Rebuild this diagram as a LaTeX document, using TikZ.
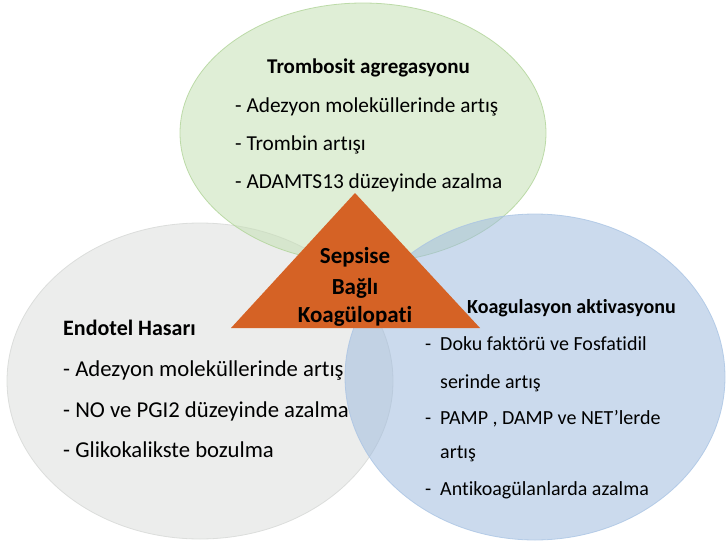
\documentclass[tikz,border=0pt]{standalone}
\usepackage{fontspec}
\setmainfont{Carlito}[Ligatures=NoCommon]
\usepackage{tikz}
\usetikzlibrary{shapes.geometric}

\definecolor{greenset}{RGB}{197,224,180}
\definecolor{greenline}{RGB}{176,212,152}
\definecolor{greyset}{RGB}{220,222,220}
\definecolor{greyline}{RGB}{214,216,214}
\definecolor{blueset}{RGB}{160,188,222}
\definecolor{blueline}{RGB}{170,196,228}
\definecolor{sepsisorange}{RGB}{213,98,37}

\begin{document}
\begin{tikzpicture}[x=1pt, y=-1pt,
  set/.style={ellipse, inner sep=0pt, fill opacity=0.55, draw opacity=0.8, line width=0.8pt},
  head/.style={anchor=base west, inner sep=0pt, font=\fontsize{22}{26}\selectfont\bfseries},
  item/.style={anchor=base west, inner sep=0pt, font=\fontsize{22.7}{26}\selectfont},
  bluetext/.style={anchor=base west, inner sep=0pt, font=\fontsize{20}{24}\selectfont},
  core/.style={anchor=base, inner sep=0pt, font=\fontsize{23}{27}\selectfont\bfseries}
]
\useasboundingbox (0,0) rectangle (726,541);

% Endotel Background
\node[set, fill=greyset, draw=greyline, minimum width=386pt, minimum height=316pt] (endotel) at (200,381) {};

% Trombosit Background
\node[set, fill=greenset, draw=greenline, minimum width=366pt, minimum height=260pt] (trombosit) at (363,133) {};

% Koagulasyon Background
\node[set, fill=blueset, draw=blueline, minimum width=380pt, minimum height=326pt] (koagulasyon) at (535,377) {};

% Trombosit text
\node[head, font=\fontsize{21}{25}\selectfont\bfseries] (tromhead) at (267,73) {Trombosit agregasyonu};
\node[item, font=\fontsize{21.3}{25}\selectfont] (trom1) at (235,112) {- Adezyon moleküllerinde artış};
\node[item, font=\fontsize{21.3}{25}\selectfont] (trom2) at (235,150) {- Trombin artışı};
\node[item, font=\fontsize{21.3}{25}\selectfont] (trom3) at (235,188) {- ADAMTS13 düzeyinde azalma};

% Endotel text
\node[head] (endhead) at (63,335) {Endotel Hasarı};
\node[item] (end1) at (63,376) {- Adezyon moleküllerinde artış};
\node[item] (end2) at (63,417) {- NO ve PGI2 düzeyinde azalma};
\node[item] (end3) at (63,457) {- Glikokalikste bozulma};

% Koagulasyon text
\node[head, font=\fontsize{20}{24}\selectfont\bfseries] (koahead) at (467,313) {Koagulasyon aktivasyonu};
\node[bluetext] (koadash1) at (425,350) {-};
\node[bluetext] (koa1) at (440,350) {Doku faktörü ve Fosfatidil};
\node[bluetext] (koa1b) at (440,388) {serinde artış};
\node[bluetext] (koadash2) at (425,424) {-};
\node[bluetext] (koa2) at (440,424) {PAMP , DAMP ve NET’lerde};
\node[bluetext] (koa2b) at (440,458) {artış};
\node[bluetext] (koadash3) at (425,495) {-};
\node[bluetext] (koa3) at (440,495) {Antikoagülanlarda azalma};

% Central triangle
\coordinate (apex) at (355,193);
\coordinate (baseL) at (231,328);
\coordinate (baseR) at (480,328);
\fill[sepsisorange] (apex) -- (baseR) -- (baseL) -- cycle;
\node[core] (sepsis1) at (355,263) {Sepsise};
\node[core] (sepsis2) at (355,294) {Bağlı};
\node[core] (sepsis3) at (355,322) {Koagülopati};

\end{tikzpicture}
\end{document}
